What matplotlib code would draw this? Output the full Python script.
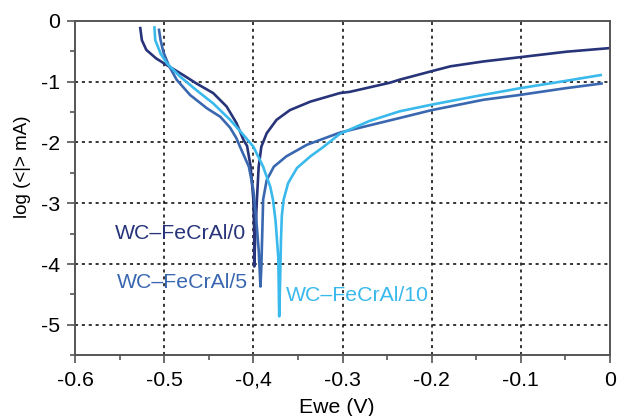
import matplotlib
matplotlib.use("Agg")
import matplotlib.pyplot as plt
from matplotlib.ticker import MultipleLocator

plt.rcParams['font.family'] = ['Liberation Sans', 'DejaVu Sans']
plt.rcParams['axes.unicode_minus'] = False

# WC-FeCrAl/0
x0 = [-0.527, -0.525, -0.520, -0.509, -0.497, -0.479, -0.464, -0.445, -0.430, -0.419,
      -0.411, -0.407, -0.403, -0.400, -0.399, -0.399, -0.398, -0.396, -0.394, -0.391,
      -0.385, -0.374, -0.359, -0.336, -0.303, -0.292, -0.247, -0.236, -0.200, -0.179,
      -0.142, -0.101, -0.049, 0.000]
y0 = [-0.10, -0.32, -0.48, -0.62, -0.73, -0.89, -1.03, -1.19, -1.41, -1.68,
      -1.96, -2.06, -2.40, -2.94, -3.49, -4.04, -3.60, -2.94, -2.40, -2.07,
      -1.85, -1.63, -1.47, -1.33, -1.19, -1.17, -1.02, -0.97, -0.83, -0.75,
      -0.67, -0.60, -0.51, -0.45]

# WC-FeCrAl/5
x5 = [-0.506, -0.504, -0.501, -0.495, -0.486, -0.471, -0.452, -0.437, -0.426, -0.419,
      -0.415, -0.405, -0.400, -0.397, -0.394, -0.392, -0.391, -0.390, -0.389, -0.385,
      -0.377, -0.363, -0.340, -0.303, -0.292, -0.236, -0.200, -0.142, -0.101, -0.050,
      -0.008]
y5 = [-0.13, -0.32, -0.51, -0.73, -0.97, -1.22, -1.44, -1.58, -1.76, -1.93,
      -2.07, -2.40, -2.78, -3.22, -3.77, -4.37, -4.04, -3.50, -2.94, -2.62,
      -2.40, -2.23, -2.04, -1.84, -1.80, -1.60, -1.47, -1.30, -1.22, -1.11,
      -1.03]

# WC-FeCrAl/10
x10 = [-0.511, -0.510, -0.504, -0.497, -0.482, -0.464, -0.445, -0.426, -0.411, -0.400,
       -0.389, -0.381, -0.378, -0.375, -0.372, -0.371, -0.370, -0.369, -0.368, -0.366,
       -0.361, -0.351, -0.336, -0.321, -0.303, -0.292, -0.270, -0.236, -0.200, -0.150,
       -0.101, -0.050, -0.009]
y10 = [-0.09, -0.32, -0.54, -0.70, -0.92, -1.14, -1.36, -1.63, -1.88, -2.07,
       -2.40, -2.73, -2.94, -3.30, -3.90, -4.86, -4.30, -3.60, -3.20, -2.94,
       -2.67, -2.42, -2.23, -2.07, -1.86, -1.79, -1.65, -1.49, -1.38, -1.24,
       -1.11, -0.99, -0.89]

labels = ["WC\u2013FeCrAl/0", "WC\u2013FeCrAl/5", "WC\u2013FeCrAl/10"]
colors = ["#283479", "#3a68b0", "#3ab9ec"]
label_pos = [(-0.555, -3.49), (-0.553, -4.31), (-0.364, -4.51)]

xticks = [-0.6, -0.5, -0.4, -0.3, -0.2, -0.1, 0]
xticklabels = ["-0.6", "-0.5", "-0,4", "-0.3", "-0.2", "-0.1", "0"]
yticks = [0, -1, -2, -3, -4, -5]
yticklabels = ["0", "-1", "-2", "-3", "-4", "-5"]

fig = plt.figure(figsize=(6.17, 4.16), dpi=100)
ax = fig.add_axes([75/617, 1 - 355.3/416, (610-75)/617, (355.3-20.7)/416])

for xs, ys, c in zip([x0, x5, x10], [y0, y5, y10], colors):
    ax.plot(xs, ys, color=c, lw=1.9, solid_joinstyle='round', solid_capstyle='butt')

for (tx, ty), lab, c in zip(label_pos, labels, colors):
    ax.text(tx, ty, lab, color=c, fontsize=15.3, va='center', ha='left')

ax.set_xlim(-0.6, 0)
ax.set_ylim(-5.5, 0)
ax.set_xticks(xticks)
ax.set_xticklabels(xticklabels)
ax.set_yticks(yticks)
ax.set_yticklabels(yticklabels)
ax.xaxis.set_minor_locator(MultipleLocator(0.05))
ax.yaxis.set_minor_locator(MultipleLocator(0.5))

for v in xticks[1:-1]:
    ax.axvline(v, color='black', lw=1.1, ls=(0, (2, 2.5)), zorder=0)
for v in yticks[1:]:
    ax.axhline(v, color='black', lw=1.1, ls=(0, (2, 2.5)), zorder=0)

for s in ax.spines.values():
    s.set_color('#555555')
    s.set_linewidth(1.4)
ax.tick_params(which='major', direction='out', length=6, width=1.2, color='#555555',
               labelsize=15.3, pad=5)
ax.tick_params(which='minor', direction='out', length=3.5, width=1.2, color='#555555')

ax.set_xlabel("Ewe (V)", fontsize=15.3)
ax.set_ylabel("log (<|> mA)", fontsize=13.5)
ax.xaxis.set_label_coords((337-75)/(610-75), -(398-355.3)/(355.3-20.7), transform=ax.transAxes)
ax.yaxis.set_label_coords(-(75-31)/(610-75), 1 - (167-20.7)/(355.3-20.7), transform=ax.transAxes)

fig.savefig("out.png", dpi=100)
